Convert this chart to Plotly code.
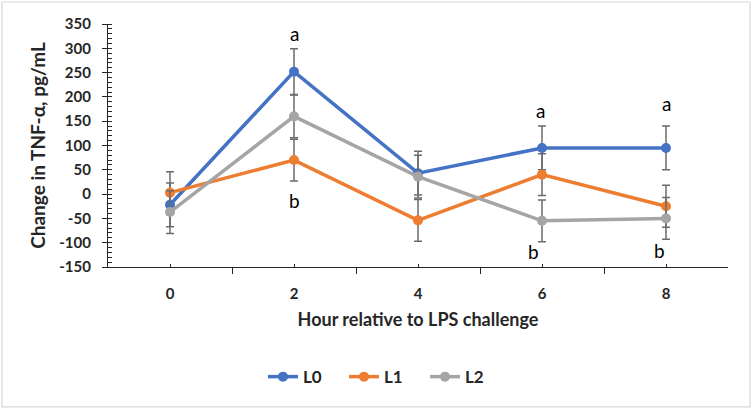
import plotly.graph_objects as go

hours = [0, 2, 4, 6, 8]
hour_labels = ["0", "2", "4", "6", "8"]

y_ticks = [-150, -100, -50, 0, 50, 100, 150, 200, 250, 300, 350]
y_tick_labels = ["-150", "-100", "-50", "0", "50", "100", "150", "200", "250", "300", "350"]

L0 = [-22, 252, 43, 95, 95]
L0_err = [45, 47, 45, 45, 45]
L1 = [3, 70, -54, 40, -25]
L1_err = [43, 43, 43, 43, 43]
L2 = [-37, 160, 36, -55, -50]
L2_err = [44, 44, 44, 43, 43]

letter_x = [2, 2, 5.98, 8, 5.87, 7.89]
letter_y = [331, -14, 173, 187, -119, -117]
letter_text = ["a", "b", "a", "a", "b", "b"]

series = [("L0", L0, L0_err, "#4472C4"),
          ("L1", L1, L1_err, "#ED7D31"),
          ("L2", L2, L2_err, "#A5A5A5")]

FONT = "Lato"
fig = go.Figure()
for name, vals, errs, col in series:
    fig.add_trace(go.Scatter(
        x=hours, y=vals, name=name, mode="lines+markers",
        line=dict(color=col, width=3.5),
        marker=dict(color=col, size=10),
        error_y=dict(type="data", array=errs, visible=True,
                     color="#6b6b6b", thickness=1.5, width=4),
    ))

for lx, ly, lt in zip(letter_x, letter_y, letter_text):
    fig.add_annotation(x=lx, y=ly, text=lt, showarrow=False,
                       font=dict(family=FONT, size=19, color="#000000"))

# outer chart border
fig.add_shape(type="rect", xref="paper", yref="paper",
              x0=-0.171, x1=1.0355, y0=-0.576, y1=1.0905,
              line=dict(color="#d9d9d9", width=1.2))

fig.update_layout(
    width=752, height=409,
    margin=dict(l=108, r=24, t=24, b=142),
    paper_bgcolor="white", plot_bgcolor="white",
    font=dict(family=FONT, color="#262626"),
    showlegend=True,
    legend=dict(orientation="h", x=0.25, xanchor="left", y=-0.453, yanchor="middle",
                font=dict(family=FONT, size=17, color="#262626", weight="bold"),
                itemwidth=30, entrywidth=36, entrywidthmode="pixels",
                tracegroupgap=0),
    xaxis=dict(
        range=[-1, 9], tickvals=hours, ticktext=hour_labels,
        automargin=False,
        showgrid=False, zeroline=False,
        showline=True, linecolor="#262626", linewidth=1.3,
        ticks="inside", ticklen=3, tickcolor="#262626", tickwidth=1.3,
        minor=dict(tick0=1, dtick=2, ticks="outside", ticklen=6,
                   tickcolor="#262626", tickwidth=1.3, showgrid=False),
        tickfont=dict(family=FONT, size=15, color="#262626", weight="bold"),
        ticklabelstandoff=13,
        title=dict(text="Hour relative to LPS challenge", standoff=12,
                   font=dict(family=FONT, size=18, color="#262626", weight="bold")),
    ),
    yaxis=dict(
        range=[-150, 350], tickvals=y_ticks, ticktext=y_tick_labels,
        automargin=False,
        showgrid=False, zeroline=False,
        showline=True, linecolor="#262626", linewidth=1.3,
        ticks="outside", ticklen=5, tickcolor="#262626", tickwidth=1.3,
        minor=dict(tick0=0, dtick=10, ticks="inside", ticklen=4,
                   tickcolor="#262626", tickwidth=1, showgrid=False),
        tickfont=dict(family=FONT, size=15, color="#262626", weight="bold"),
        ticklabelstandoff=8,
        title=dict(text="Change in TNF-α, pg/mL", standoff=8,
                   font=dict(family=FONT, size=19, color="#262626", weight="bold")),
    ),
)

fig.write_html("out.html",
               config={"displayModeBar": False},
               post_script="document.body.style.margin='0';document.body.style.overflow='hidden';")
